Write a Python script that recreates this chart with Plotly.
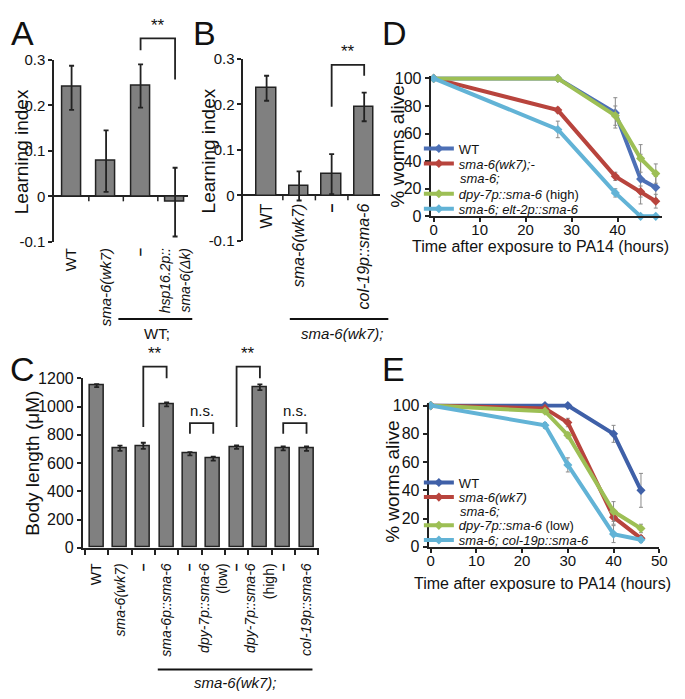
import plotly.graph_objects as go

# The page body has an 8px margin; the figure is sized/positioned to compensate
OFF = 8
W, H = 685 - OFF, 699 - OFF
FONT = "Liberation Sans, Arial, sans-serif"
INK = "#222222"
BAR_FILL = "#808080"
DASH = "<b>–</b>"

# ---------------- data ----------------
# Panel A
A_labels = ["WT", "<i>sma-6(wk7)</i>", DASH,
            "<span style='font-size:14px'><i>hsp16.2p::</i><br><i>sma-6(Δk)</i></span>"]
A_values = [0.240, 0.078, 0.244, -0.012]
A_err_up = [0.047, 0.067, 0.046, 0.075]
A_err_down = [0.050, 0.068, 0.049, 0.076]

# Panel B
B_labels = ["WT", "<i>sma-6(wk7)</i>", DASH, "<i>col-19p::sma-6</i>"]
B_values = [0.236, 0.022, 0.048, 0.195]
B_err_up = [0.027, 0.031, 0.043, 0.031]
B_err_down = [0.028, 0.033, 0.045, 0.032]

LI_tickvals = [-0.1, 0, 0.1, 0.2, 0.3]
LI_ticktext = ["-0.1", "0", "0.1", "0.2", "0.3"]

# Panel C
C_labels = ["WT", "<i>sma-6(wk7)</i>", DASH, "<i>sma-6p::sma-6</i>", DASH,
            "<i>dpy-7p::sma-6</i><br>(low)", DASH, "<i>dpy-7p::sma-6</i><br>(high)",
            DASH, "<i>col-19p::sma-6</i>"]
C_values = [1148, 705, 722, 1016, 666, 632, 713, 1137, 704, 702]
C_err = [10, 18, 22, 14, 12, 14, 12, 20, 14, 16]
C_tickvals = [0, 200, 400, 600, 800, 1000, 1200]

# Panel D (survival, hours)
D_names = ["WT", "<i>sma-6(wk7);-</i>", "<i>dpy-7p::sma-6</i> (high)", "<i>sma-6; elt-2p::sma-6</i>"]
D_time = [0, 27, 39.5, 45, 48.3]
D_values = [
    [100, 100, 75, 27, 21],
    [100, 77, 29, 18, 11],
    [100, 100, 73, 42, 31],
    [100, 63, 17, 0, 0],
]
D_err = [
    [0, 0, 11, 18, 8],
    [0, 2, 3, 4, 5],
    [0, 0, 7, 10, 7],
    [0, 6, 3, 1, 1],
]

# Panel E
E_names = ["WT", "<i>sma-6(wk7)</i>", "<i>dpy-7p::sma-6</i> (low)", "<i>sma-6; col-19p::sma-6</i>"]
E_time = [0, 25, 30, 40, 46]
E_values = [
    [100, 100, 100, 80, 40],
    [100, 98, 88, 21, 6],
    [100, 96, 79, 25, 13],
    [100, 86, 58, 9, 5],
]
E_err = [
    [0, 0, 0, 6, 12],
    [0, 1, 3, 5, 2],
    [0, 1, 2, 7, 3],
    [0, 2, 5, 6, 2],
]
SURV_ticks = [0, 20, 40, 60, 80, 100]
TIME_ticks = [0, 10, 20, 30, 40, 50]

LINE_COLORS = ["#4d70b6", "#b8443d", "#9dbf55", "#62b3d6"]
E_COLORS = ["#3f60a8", "#b8443d", "#9dbf55", "#62b3d6"]

# ---------------- geometry (reference pixels) ----------------
P = {
    "A": dict(xpx=(53, 188.5), ypx=(239, 52), xr=[-0.5, 3.37], yr=[-0.1, 0.3]),
    "B": dict(xpx=(245, 384), ypx=(238, 51), xr=[-0.71, 3.5], yr=[-0.1, 0.3]),
    "C": dict(xpx=(82, 322), ypx=(553, 379), xr=[-0.59, 9.55], yr=[0, 1200]),
    "D": dict(xpx=(435, 670), ypx=(212.7, 68.9), xr=[-0.64, 49.7], yr=[0, 101.5]),
    "E": dict(xpx=(433, 667), ypx=(552, 404.8), xr=[-0.43, 50], yr=[0, 101.5]),
}


def PX(px):
    return (px - OFF) / W


def PY(py):
    return 1 - (py - OFF) / H


def xdom(p):
    return [PX(P[p]["xpx"][0]), PX(P[p]["xpx"][1])]


def ydom(p):
    return [PY(P[p]["ypx"][0]), PY(P[p]["ypx"][1])]


def fx(p, v):
    g = P[p]
    x0, x1 = g["xpx"]
    r0, r1 = g["xr"]
    return PX(x0 + (v - r0) / (r1 - r0) * (x1 - x0))


def fy(p, v):
    g = P[p]
    b, t = g["ypx"]
    r0, r1 = g["yr"]
    return PY(b - (v - r0) / (r1 - r0) * (b - t))


fig = go.Figure()

# ---------------- bar panels ----------------
def add_bars(labels, vals, eu, ed, xa, ya, width):
    fig.add_trace(go.Bar(
        x=list(range(len(labels))), y=vals, width=width,
        marker=dict(color=BAR_FILL, line=dict(color=INK, width=1.5)),
        error_y=dict(type="data", array=eu, arrayminus=ed, color=INK, thickness=1.8, width=2.5),
        xaxis=xa, yaxis=ya, showlegend=False, hoverinfo="skip"))


add_bars(A_labels, A_values, A_err_up, A_err_down, "x", "y", 0.55)
add_bars(B_labels, B_values, B_err_up, B_err_down, "x2", "y2", 0.6)
add_bars(C_labels, C_values, C_err, C_err, "x3", "y3", 0.6)

# ---------------- survival panels ----------------
legend_ids_D = ["legend", "legend2", "legend3", "legend4"]
legend_ids_E = ["legend5", "legend6", "legend7", "legend8"]
for i, name in enumerate(D_names):
    fig.add_trace(go.Scatter(
        x=D_time, y=D_values[i], name=name, mode="lines+markers",
        line=dict(color=LINE_COLORS[i], width=4),
        marker=dict(symbol="diamond", size=7, color=LINE_COLORS[i]),
        error_y=dict(type="data", array=D_err[i], color="#8a8a8a", thickness=1, width=2),
        xaxis="x4", yaxis="y4", legend=legend_ids_D[i], cliponaxis=False, hoverinfo="skip"))
for i, name in enumerate(E_names):
    fig.add_trace(go.Scatter(
        x=E_time, y=E_values[i], name=name, mode="lines+markers",
        line=dict(color=E_COLORS[i], width=4),
        marker=dict(symbol="diamond", size=7, color=E_COLORS[i]),
        error_y=dict(type="data", array=E_err[i], color="#8a8a8a", thickness=1, width=2),
        xaxis="x5", yaxis="y5", legend=legend_ids_E[i], cliponaxis=False, hoverinfo="skip"))

# ---------------- axes ----------------
axis_common = dict(showline=True, linecolor=INK, linewidth=2, showgrid=False,
                   ticks="outside", ticklen=4, tickwidth=1.5, tickcolor=INK,
                   zeroline=False, tickfont=dict(family=FONT, size=15, color="#111"))

lay = dict(
    width=W, height=H, margin=dict(l=0, r=0, t=0, b=0),
    paper_bgcolor="white", plot_bgcolor="white",
    font=dict(family=FONT, color="#111"),
    bargap=0,
)

# A
lay["xaxis"] = dict(domain=xdom("A"), range=P["A"]["xr"], anchor="y", showline=False, showgrid=False,
                    zeroline=False, ticks="", tickmode="array", tickvals=list(range(4)), ticktext=A_labels,
                    tickangle=-90, tickfont=dict(family=FONT, size=15, color="#111"), ticklabelstandoff=2)
lay["yaxis"] = dict(axis_common, domain=ydom("A"), range=P["A"]["yr"], anchor="x",
                    tickmode="array", tickvals=LI_tickvals, ticktext=LI_ticktext,
                    zeroline=True, zerolinecolor=INK, zerolinewidth=2)
# B  (category labels hang from the zero line)
lay["xaxis2"] = dict(lay["xaxis"], domain=xdom("B"), range=P["B"]["xr"], anchor="free",
                     position=fy("B", 0), ticktext=B_labels, ticklabelstandoff=4,
                     tickfont=dict(family=FONT, size=16, color="#111"))
lay["yaxis2"] = dict(lay["yaxis"], domain=ydom("B"), range=P["B"]["yr"], anchor="x2")
# C
lay["xaxis3"] = dict(domain=xdom("C"), range=P["C"]["xr"], anchor="y3", showline=True, linecolor=INK,
                     linewidth=2, showgrid=False, zeroline=False, ticks="", tickmode="array",
                     tickvals=list(range(10)), ticktext=C_labels, tickangle=-90,
                     tickfont=dict(family=FONT, size=14, color="#111"), ticklabelstandoff=8,
                     minor=dict(ticks="outside", tick0=0.5, dtick=1, ticklen=5, tickwidth=1.5,
                                tickcolor=INK, showgrid=False))
lay["yaxis3"] = dict(axis_common, domain=ydom("C"), range=P["C"]["yr"], anchor="x3",
                     tickmode="array", tickvals=C_tickvals,
                     tickfont=dict(family=FONT, size=16, color="#111"))
# D
lay["xaxis4"] = dict(axis_common, domain=xdom("D"), range=P["D"]["xr"], anchor="y4",
                     tickmode="array", tickvals=TIME_ticks, ticklabelstandoff=-5,
                     tickfont=dict(family=FONT, size=15, color="#111"))
lay["yaxis4"] = dict(axis_common, domain=ydom("D"), range=P["D"]["yr"], anchor="x4",
                     tickmode="array", tickvals=SURV_ticks, tickfont=dict(family=FONT, size=16, color="#111"))
# E
lay["xaxis5"] = dict(lay["xaxis4"], domain=xdom("E"), range=P["E"]["xr"], anchor="y5")
lay["yaxis5"] = dict(lay["yaxis4"], domain=ydom("E"), range=P["E"]["yr"], anchor="x5")

# ---------------- legends ----------------
LEG_FONT = 13


def leg(ycenter_px):
    return dict(x=PX(423), y=PY(ycenter_px), xanchor="left", yanchor="middle",
                bgcolor="rgba(0,0,0,0)", borderwidth=0, itemwidth=30,
                font=dict(family=FONT, size=LEG_FONT, color="#111"))


for lid, yc in zip(legend_ids_D, [143, 158.5, 189.5, 205]):
    lay[lid] = leg(yc)
for lid, yc in zip(legend_ids_E, [486, 501, 530, 545]):
    lay[lid] = leg(yc)

# ---------------- annotations & shapes ----------------
ann = []
shapes = []


def text(x, y, s, size, angle=0, xanchor="center", yanchor="middle"):
    ann.append(dict(x=x, y=y, xref="paper", yref="paper", text=s, showarrow=False,
                    font=dict(family=FONT, size=size, color="#111"), textangle=angle,
                    xanchor=xanchor, yanchor=yanchor))


# panel letters
for L, (px_, py_) in {"A": (21, 24), "B": (205, 24), "D": (398, 24), "C": (21, 369), "E": (397, 369)}.items():
    text(PX(px_), PY(py_), L, 34)

# axis titles
text(PX(20), PY(146), "Learning index", 19, -90)
text(PX(209), PY(146), "Learning index", 19, -90)
text(PX(30), PY(466), "Body length (μM)", 19, -90)
text(PX(401), PY(141), "% worms alive", 19, -90)
text(PX(396), PY(485), "% worms alive", 19, -90)
text(PX(546), PY(244), "Time after exposure to PA14 (hours)", 16)
text(PX(548), PY(590), "Time after exposure to PA14 (hours)", 16)

# legend first-line text (two-line legend entries)
text(PX(463), PY(174), "<i>sma-6;</i>", LEG_FONT, xanchor="left")
text(PX(463), PY(515.5), "<i>sma-6;</i>", LEG_FONT, xanchor="left")

# small ticks on the zero baseline of A and B
for p, n in (("A", 4), ("B", 4)):
    for k in range(n - 1):
        xx = fx(p, k + 0.5)
        y0 = fy(p, 0)
        shapes.append(dict(type="line", xref="paper", yref="paper", x0=xx, x1=xx,
                           y0=y0, y1=y0 - 5 / H, line=dict(color=INK, width=1.5)))

# significance brackets: (panel, left bar, right bar, left foot, right foot, top, label)
SIG = [
    ("A", 2, 3, 0.321, 0.257, 0.347, "**"),
    ("B", 2, 3, 0.195, 0.263, 0.287, "**"),
    ("C", 2, 3, 855, 1200, 1283, "**"),
    ("C", 4, 5, 807, 807, 883, "n.s."),
    ("C", 6, 7, 855, 1200, 1283, "**"),
    ("C", 8, 9, 807, 807, 883, "n.s."),
]
for p, l, r, fl, fr, top, lab in SIG:
    xl, xr_ = fx(p, l), fx(p, r)
    path = f"M{xl},{fy(p, fl)} L{xl},{fy(p, top)} L{xr_},{fy(p, top)} L{xr_},{fy(p, fr)}"
    shapes.append(dict(type="path", xref="paper", yref="paper", path=path,
                       line=dict(color=INK, width=1.8)))
    text((xl + xr_) / 2, fy(p, top) + (2 / H), lab, 17 if lab == "**" else 15, yanchor="bottom")

# group underlines and labels
for (x0, x1, yl, xt, yt, lab) in [
    (118, 193, 318, 157, 333, "WT;"),
    (292, 392, 318, 345, 333, "<i>sma-6(wk7);</i>"),
    (158, 315, 678, 237, 691, "<i>sma-6(wk7);</i>"),
]:
    shapes.append(dict(type="line", xref="paper", yref="paper", x0=PX(x0), x1=PX(x1),
                       y0=PY(yl), y1=PY(yl), line=dict(color="#111", width=2)))
    text(PX(xt), PY(yt), lab, 15)

lay["annotations"] = ann
lay["shapes"] = shapes
fig.update_layout(**lay)
fig.write_html("out.html")
